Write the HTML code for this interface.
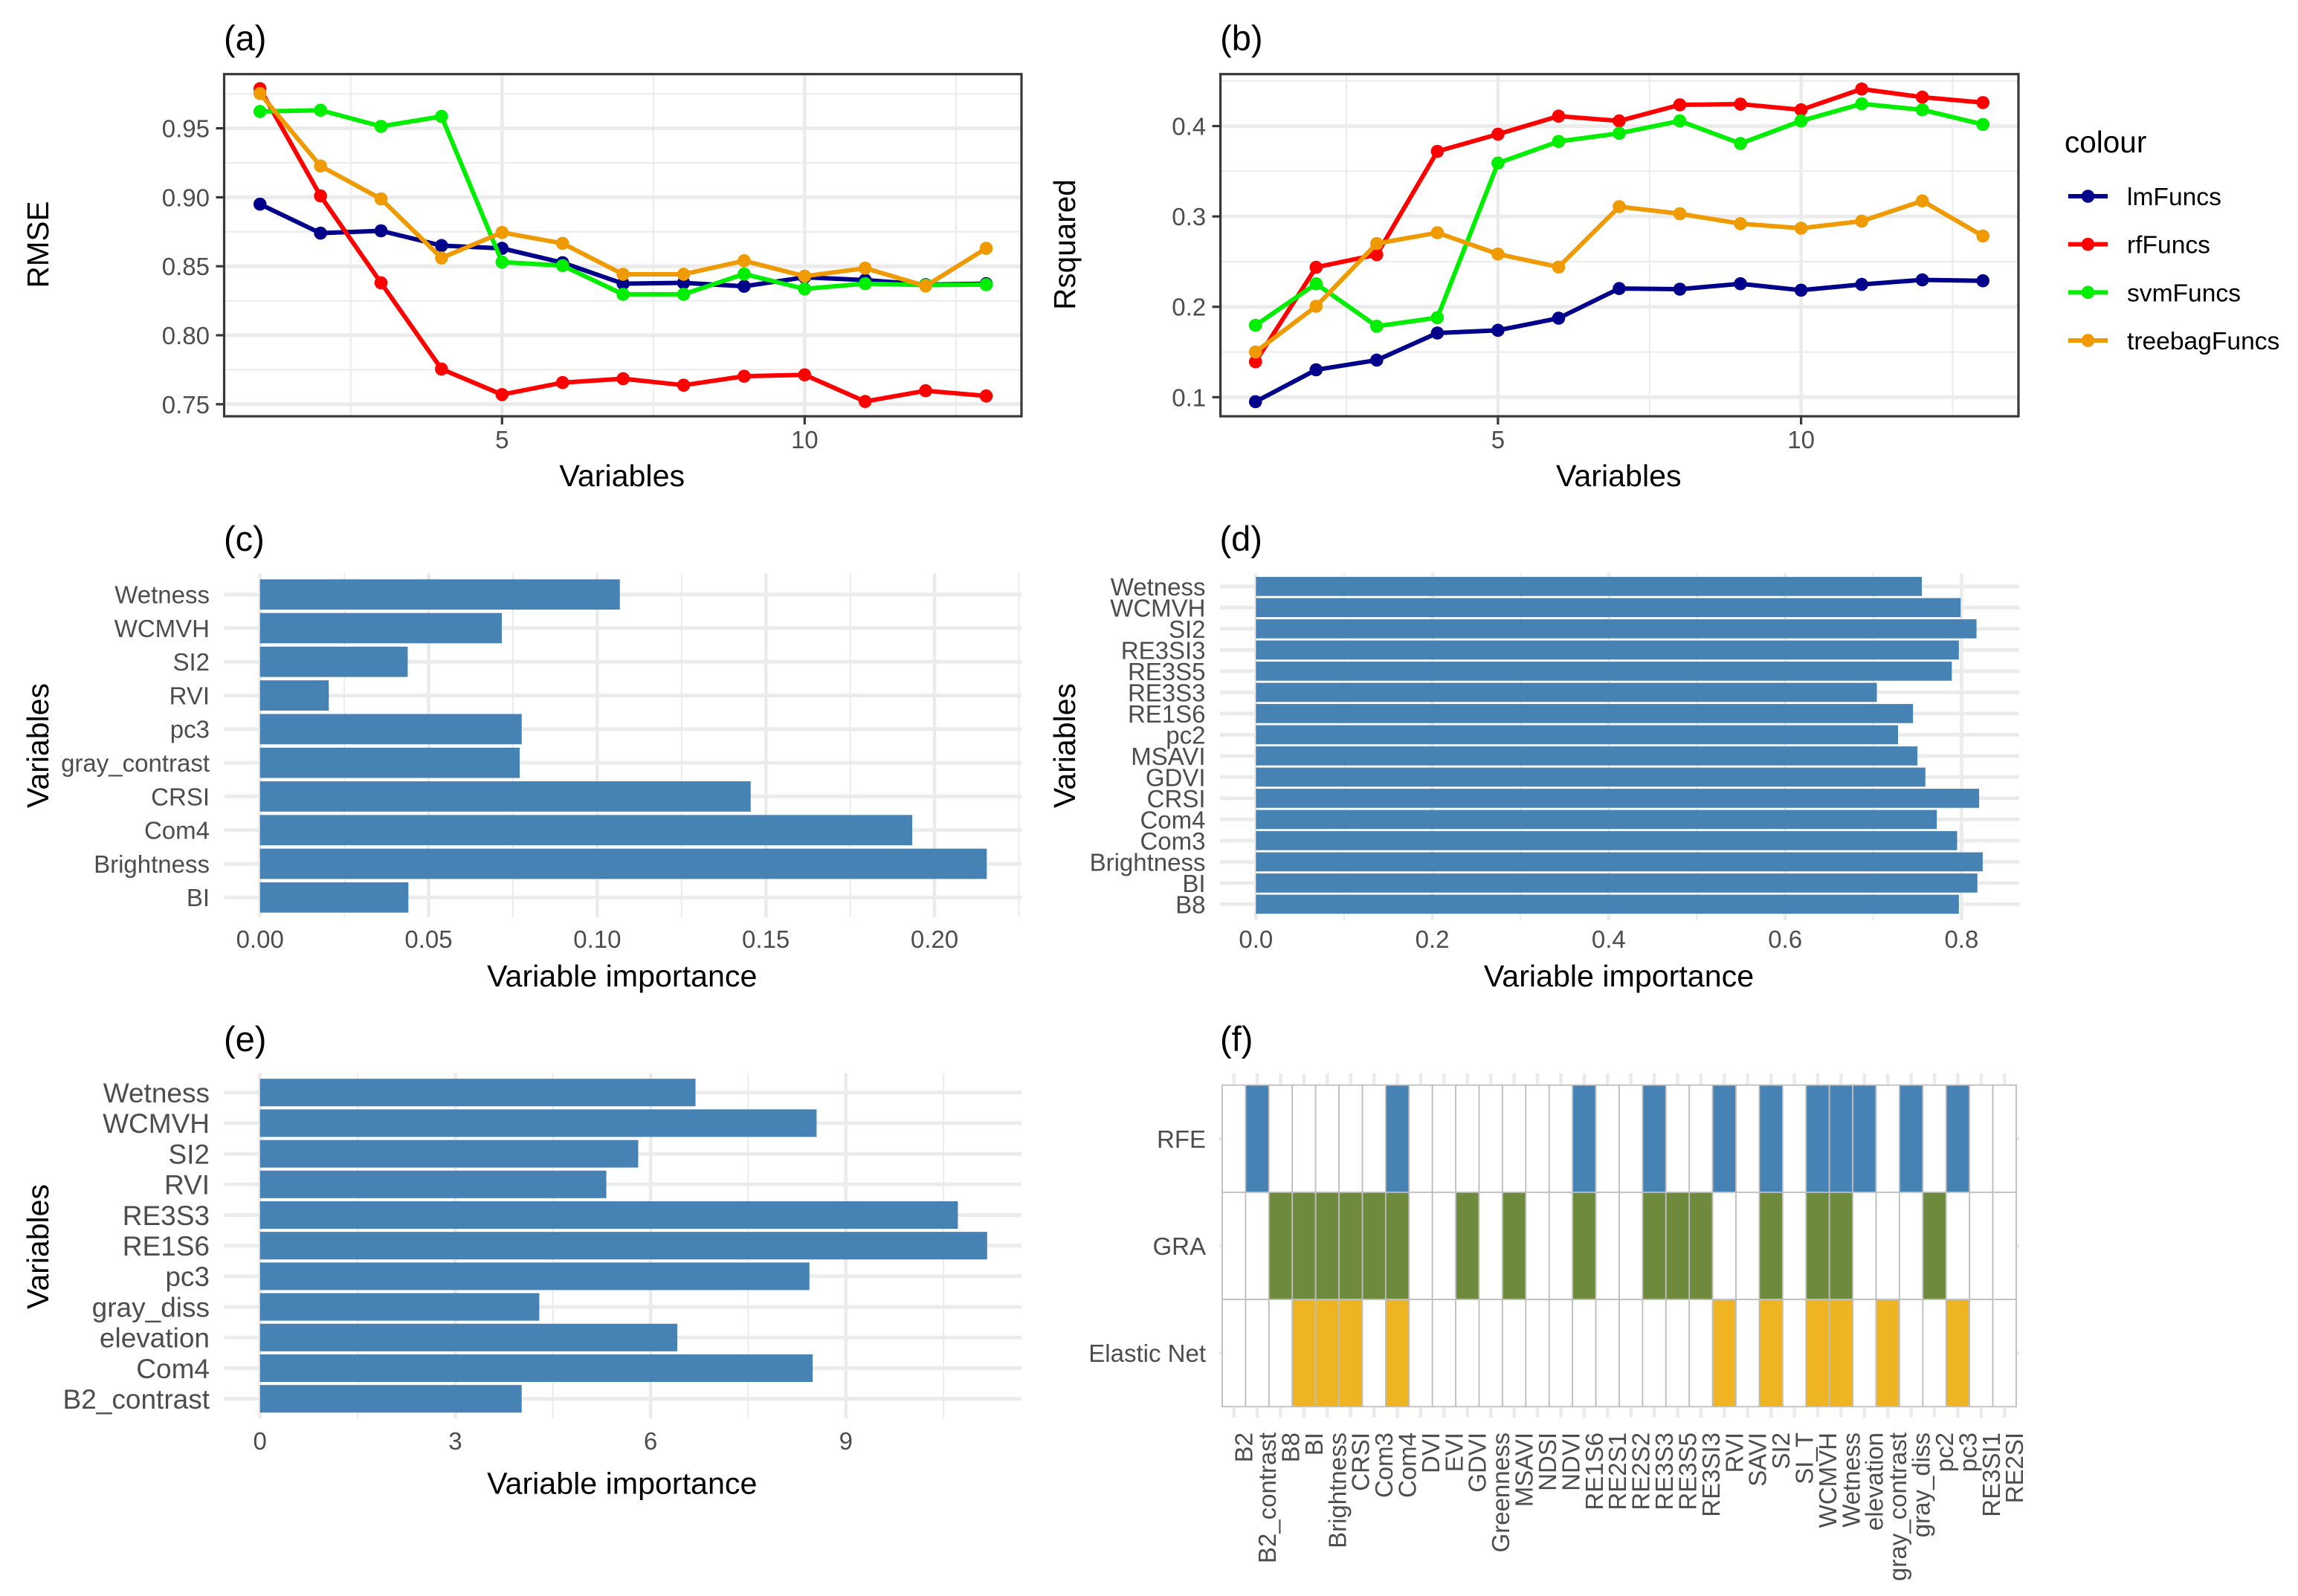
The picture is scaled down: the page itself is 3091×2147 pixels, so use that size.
<!DOCTYPE html>
<html lang="en">
<head>
<meta charset="utf-8">
<title>Variable selection results</title>
<style>
html,body{margin:0;padding:0;background:#fff;width:3091px;height:2147px;overflow:hidden}
svg{display:block}
text{font-family:"Liberation Sans",Arial,sans-serif}
</style>
</head>
<body>
<svg id="figure" xmlns="http://www.w3.org/2000/svg" width="3091" height="2147" viewBox="0 0 3091 2147"></svg>
<script>
// ---------- Panels (a) and (b) data ----------
const variableCounts = [1,2,3,4,5,6,7,8,9,10,11,12,13];
const rmseLm = [.895,.874,.8757,.865,.863,.8526,.8374,.838,.8355,.842,.84,.8367,.8374];
const rmseRf = [.9787,.901,.838,.7755,.757,.7657,.7685,.7638,.7703,.7713,.752,.7598,.756];
const rmseSvm = [.9622,.9631,.9514,.9586,.853,.8505,.8297,.8297,.8444,.8336,.8374,.8364,.8367];
const rmseTreebag = [.9752,.9227,.8988,.856,.8745,.8666,.8442,.8442,.854,.8428,.8486,.8357,.863];
const rsqLm = [.095,.1303,.141,.171,.174,.1874,.2202,.2195,.2255,.2184,.2248,.2298,.2288];
const rsqRf = [.1392,.2437,.2577,.372,.391,.411,.4057,.4235,.4243,.418,.441,.432,.426];
const rsqSvm = [.1795,.2255,.1785,.188,.359,.383,.392,.4057,.3807,.4057,.4246,.418,.4018];
const rsqTreebag = [.15,.2006,.27,.282,.2584,.244,.3108,.303,.292,.287,.2948,.3172,.2783];
const seriesNames = ["lmFuncs","rfFuncs","svmFuncs","treebagFuncs"];
const seriesColors = ["#00008b","#ff0000","#00ee00","#ee9a00"];
const lineXTicks = [5,10];
const lineXMinorTicks = [2.5,7.5,12.5];
const rmseTicks = [0.75,0.80,0.85,0.90,0.95];
const rmseMinorTicks = [0.775,0.825,0.875,0.925,0.975];
const rmseTickLabels = ["0.75","0.80","0.85","0.90","0.95"];
const rsqTicks = [0.1,0.2,0.3,0.4];
const rsqMinorTicks = [0.15,0.25,0.35,0.45];
const rsqTickLabels = ["0.1","0.2","0.3","0.4"];

// ---------- Panel (c) data ----------
const cCategories = ["Wetness","WCMVH","SI2","RVI","pc3","gray_contrast","CRSI","Com4","Brightness","BI"];
const cValues = [.1067,.0717,.0438,.0204,.0776,.077,.1455,.1934,.2155,.044];
const cTicks = [0,.05,.1,.15,.2];
const cMinorTicks = [.025,.075,.125,.175,.225];
const cTickLabels = ["0.00","0.05","0.10","0.15","0.20"];

// ---------- Panel (d) data ----------
const dCategories = ["Wetness","WCMVH","SI2","RE3SI3","RE3S5","RE3S3","RE1S6","pc2","MSAVI","GDVI","CRSI","Com4","Com3","Brightness","BI","B8"];
const dValues = [.755,.799,.817,.797,.789,.704,.745,.728,.75,.759,.82,.772,.795,.824,.818,.797];
const dTicks = [0,.2,.4,.6,.8];
const dMinorTicks = [.1,.3,.5,.7];
const dTickLabels = ["0.0","0.2","0.4","0.6","0.8"];

// ---------- Panel (e) data ----------
const eCategories = ["Wetness","WCMVH","SI2","RVI","RE3S3","RE1S6","pc3","gray_diss","elevation","Com4","B2_contrast"];
const eValues = [6.69,8.55,5.81,5.32,10.72,11.17,8.44,4.29,6.41,8.49,4.02];
const eTicks = [0,3,6,9];
const eMinorTicks = [1.5,4.5,7.5,10.5];
const eTickLabels = ["0","3","6","9"];

// ---------- Panel (f) data ----------
const fVariables = ["B2","B2_contrast","B8","BI","Brightness","CRSI","Com3","Com4","DVI","EVI","GDVI","Greenness","MSAVI","NDSI","NDVI","RE1S6","RE2S1","RE2S2","RE3S3","RE3S5","RE3SI3","RVI","SAVI","SI2","SI_T","WCMVH","Wetness","elevation","gray_contrast","gray_diss","pc2","pc3","RE3SI1","RE2SI"];
const fMethods = ["RFE","GRA","Elastic Net"];
const fMethodColors = ["#4682b4","#6e8b3d","#eeb422"];
const fRfeSelected = ["B2_contrast","Com4","RE1S6","RE3S3","RVI","SI2","WCMVH","Wetness","elevation","gray_diss","pc3"];
const fGraSelected = ["B8","BI","Brightness","CRSI","Com3","Com4","GDVI","MSAVI","RE1S6","RE3S3","RE3S5","RE3SI3","SI2","WCMVH","Wetness","pc2"];
const fElasticSelected = ["BI","Brightness","CRSI","Com4","RVI","SI2","WCMVH","Wetness","gray_contrast","pc3"];

// ---------- Helpers ----------
const NS = "http://www.w3.org/2000/svg";
const figure = document.getElementById("figure");
const GRID = "#ebebeb", TICK_TEXT = "#4d4d4d", BAR = "#4682b4";
const TICK_SIZE = 33, TITLE_SIZE = 41.2, TAG_SIZE = 47, LEGEND_SIZE = 33.6;

function linear(d0, d1, r0, r1) { return v => r0 + (v - d0) * (r1 - r0) / (d1 - d0); }
function shape(parent, tag, attrs) {
  const el = document.createElementNS(NS, tag);
  for (const k in attrs) el.setAttribute(k, attrs[k]);
  parent.appendChild(el);
  return el;
}
function hline(parent, x0, x1, y, color, w) { return shape(parent, "line", {x1:x0, x2:x1, y1:y, y2:y, stroke:color, "stroke-width":w}); }
function vline(parent, x, y0, y1, color, w) { return shape(parent, "line", {x1:x, x2:x, y1:y0, y2:y1, stroke:color, "stroke-width":w}); }
function label(parent, x, y, str, size, color, anchor, rotate) {
  const attrs = {x:x, y:y, "font-size":size, fill:color, "text-anchor":anchor};
  if (rotate) attrs.transform = "rotate(-90 " + x + " " + y + ")";
  const el = shape(parent, "text", attrs);
  el.textContent = str;
  return el;
}
function panelGroup(name) {
  const g = shape(figure, "g", {});
  
  
  return g;
}

// ---------- Line panel ----------
function drawLinePanel(p) {
  const g = panelGroup(p.name);
  const x = linear(5, 10, p.x5, p.x10);
  const y = linear(p.yTicks[0], p.yTicks[p.yTicks.length - 1], p.yFirstPx, p.yLastPx);
  const L = p.left, R = p.right, T = 99.7, B = 560;
  p.yMinor.forEach(v => {
    const el = hline(g, L, R, y(v), GRID, 2);
    
    
  });
  lineXMinorTicks.forEach(v => {
    const el = vline(g, x(v), T, B, GRID, 2);
    
    
  });
  p.yTicks.forEach(v => {
    const el = hline(g, L, R, y(v), GRID, 5);
    
    
  });
  lineXTicks.forEach(v => {
    const el = vline(g, x(v), T, B, GRID, 4.5);
    
    
  });
  p.series.forEach((vals, s) => {
    const pts = vals.map((v, i) => x(variableCounts[i]) + "," + y(v)).join(" ");
    const line = shape(g, "polyline", {points:pts, fill:"none", stroke:seriesColors[s], "stroke-width":6, "stroke-linejoin":"round"});
    
    
    vals.forEach((v, i) => {
      const dot = shape(g, "circle", {cx:x(variableCounts[i]), cy:y(v), r:8.8, fill:seriesColors[s]});
      
      
    });
  });
  const frame = shape(g, "rect", {x:L, y:T, width:R - L, height:B - T, fill:"none", stroke:"#383838", "stroke-width":3.2});
  
  
  p.yTicks.forEach((v, i) => {
    const t = hline(g, L - 11, L, y(v), "#383838", 3.2);
    
    
    const tl = label(g, L - 19.5, y(v) + 12, p.yLabels[i], TICK_SIZE, TICK_TEXT, "end");
    
    
  });
  lineXTicks.forEach(v => {
    const t = vline(g, x(v), B, B + 11, "#383838", 3.2);
    
    
    const tl = label(g, x(v), 603, String(v), TICK_SIZE, TICK_TEXT, "middle");
    
    
  });
  const xt = label(g, (L + R) / 2 - 1, 654, "Variables", TITLE_SIZE, "#000", "middle");
  
  
  const yt = label(g, p.yTitleX, 329, p.yTitle, 40.5, "#000", "middle", true);
  
  
  const tag = label(g, L - 0.5, 67.5, p.tag, TAG_SIZE, "#000", "start");
  
  
}

// ---------- Bar panel ----------
function drawBarPanel(p) {
  const g = panelGroup(p.name);
  const x = linear(p.ticks[0], p.ticks[p.ticks.length - 1], p.xFirstPx, p.xLastPx);
  const n = p.categories.length;
  const band = linear(0, n - 1, p.bandFirst, p.bandLast);
  const step = (p.bandLast - p.bandFirst) / (n - 1);
  p.minor.forEach(v => {
    const el = vline(g, x(v), p.top, p.bottom, GRID, 2);
    
    
  });
  p.ticks.forEach(v => {
    const el = vline(g, x(v), p.top, p.bottom, GRID, 4.5);
    
    
  });
  p.categories.forEach((c, i) => {
    const el = hline(g, p.left, p.right, band(i), GRID, 5);
    
    
  });
  p.categories.forEach((c, i) => {
    const bar = shape(g, "rect", {x:x(0), y:band(i) - step * .45, width:x(p.values[i]) - x(0), height:step * .9, fill:BAR});
    
    
    const tl = label(g, p.left - 19.5, band(i) + p.labelSize * .36, c, p.labelSize, TICK_TEXT, "end");
    
    
  });
  p.ticks.forEach((v, i) => {
    const tl = label(g, x(v), p.tickBase, p.tickLabels[i], TICK_SIZE, TICK_TEXT, "middle");
    
    
  });
  const xt = label(g, (p.left + p.right) / 2 - 1, p.titleBase, "Variable importance", TITLE_SIZE, "#000", "middle");
  
  
  const yt = label(g, p.yTitleX, p.yTitleY, "Variables", 41, "#000", "middle", true);
  
  
  const tag = label(g, p.left - 0.5, p.tagBase, p.tag, TAG_SIZE, "#000", "start");
  
  
}

// ---------- Membership panel ----------
function drawMembershipPanel() {
  const g = panelGroup("panel-f-selection-matrix");
  const selections = [fRfeSelected, fGraSelected, fElasticSelected];
  const L = 1644, R = 2712, T = 1459.7, B = 1892.3;
  const colW = (R - L) / fVariables.length;
  const rowH = (B - T) / fMethods.length;
  const colX = linear(0, fVariables.length, L, R);
  const rowY = linear(0, fMethods.length, T, B);
  fVariables.forEach((v, i) => {
    const el = vline(g, colX(i + .5), 1444, 1907, GRID, 4.5);
    
    
  });
  fMethods.forEach((m, r) => {
    const el = hline(g, L - 4, R + 4, rowY(r + .5), GRID, 5);
    
    
  });
  fMethods.forEach((m, r) => {
    fVariables.forEach((v, c) => {
      const on = selections[r].indexOf(v) >= 0;
      const cell = shape(g, "rect", {x:colX(c), y:rowY(r), width:colW, height:rowH, fill:on ? fMethodColors[r] : "#ffffff", stroke:"#bebebe", "stroke-width":1.8});
      
      
    });
    const tl = label(g, 1622, rowY(r + .5) + 12, m, TICK_SIZE, TICK_TEXT, "end");
    
    
  });
  fVariables.forEach((v, i) => {
    const tl = label(g, colX(i + .5) + 24.9, 1927, v, TICK_SIZE, TICK_TEXT, "end", true);
    
    
  });
  const tag = label(g, 1641, 1414, "(f)", TAG_SIZE, "#000", "start");
  
  
}

// ---------- Legend ----------
function drawLegend() {
  const g = panelGroup("legend");
  const title = label(g, 2777, 205, "colour", 40.5, "#000", "start");
  
  
  const row = linear(0, 3, 264, 458);
  seriesNames.forEach((name, i) => {
    const line = hline(g, 2782, 2835, row(i), seriesColors[i], 6);
    
    
    const dot = shape(g, "circle", {cx:2808.5, cy:row(i), r:8.8, fill:seriesColors[i]});
    
    
    const tl = label(g, 2861, row(i) + 12, name, LEGEND_SIZE, "#000", "start");
    
    
  });
}

// ---------- Draw ----------
drawLinePanel({name:"panel-a-rmse", tag:"(a)", left:301.5, right:1374, x5:675.3, x10:1082.3,
  yTicks:rmseTicks, yLabels:rmseTickLabels, yMinor:rmseMinorTicks, yFirstPx:543.8, yLastPx:172.6,
  series:[rmseLm, rmseRf, rmseSvm, rmseTreebag], yTitle:"RMSE", yTitleX:65});
drawLinePanel({name:"panel-b-rsquared", tag:"(b)", left:1641.6, right:2715, x5:2014.9, x10:2422.6,
  yTicks:rsqTicks, yLabels:rsqTickLabels, yMinor:rsqMinorTicks, yFirstPx:534.3, yLastPx:169.6,
  series:[rsqLm, rsqRf, rsqSvm, rsqTreebag], yTitle:"Rsquared", yTitleX:1446});
drawLegend();
drawBarPanel({name:"panel-c-importance", tag:"(c)", left:301.5, right:1374, top:770.7, bottom:1234,
  categories:cCategories, values:cValues, ticks:cTicks, minor:cMinorTicks, tickLabels:cTickLabels,
  xFirstPx:349.7, xLastPx:1257, bandFirst:799.7, bandLast:1207.3, labelSize:TICK_SIZE,
  tickBase:1275, titleBase:1327, yTitleX:65, yTitleY:1003, tagBase:741});
drawBarPanel({name:"panel-d-importance", tag:"(d)", left:1641, right:2716, top:770.7, bottom:1238,
  categories:dCategories, values:dValues, ticks:dTicks, minor:dMinorTicks, tickLabels:dTickLabels,
  xFirstPx:1689.3, xLastPx:2638.4, bandFirst:788.9, bandLast:1216.4, labelSize:TICK_SIZE,
  tickBase:1275, titleBase:1327, yTitleX:1446, yTitleY:1003, tagBase:741});
drawBarPanel({name:"panel-e-importance", tag:"(e)", left:301.5, right:1374, top:1443.7, bottom:1907.7,
  categories:eCategories, values:eValues, ticks:eTicks, minor:eMinorTicks, tickLabels:eTickLabels,
  xFirstPx:349.7, xLastPx:1137.8, bandFirst:1469.7, bandLast:1881.7, labelSize:37,
  tickBase:1950, titleBase:2009.5, yTitleX:65, yTitleY:1677, tagBase:1414});
drawMembershipPanel();
</script>
</body>
</html>
